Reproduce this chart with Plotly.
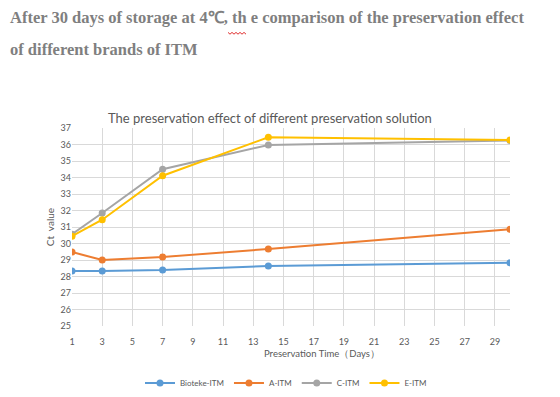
import plotly.graph_objects as go

days = [1, 3, 7, 14, 30]
series_names = ["Bioteke-ITM", "A-ITM", "C-ITM", "E-ITM"]
bioteke = [28.33, 28.33, 28.39, 28.64, 28.83]
a_itm = [29.48, 29.0, 29.18, 29.67, 30.86]
c_itm = [30.56, 31.85, 34.5, 35.97, 36.24]
e_itm = [30.44, 31.44, 34.11, 36.44, 36.27]
colors = ["#5B9BD5", "#ED7D31", "#A5A5A5", "#FFC000"]

x_ticks = list(range(1, 30, 2))
y_ticks = list(range(25, 38))

# page body has an 8px margin; work in page pixels and convert
OFF = 8
W, H = 560 - OFF, 397 - OFF
plot_left, plot_right, plot_top, plot_bottom = 72, 510, 128, 326  # page pixels
L = plot_left - OFF
T = plot_top - OFF
R = W - (plot_right - OFF)
B = H - (plot_bottom - OFF)
pw, ph = W - L - R, H - T - B

def px(x):
    return (x - OFF - L) / pw

def py(y):
    return (H - B - (y - OFF)) / ph

fig = go.Figure()
for name, vals, col in zip(series_names, [bioteke, a_itm, c_itm, e_itm], colors):
    fig.add_trace(go.Scatter(
        x=days, y=vals, name=name, mode="lines+markers",
        line=dict(color=col, width=2),
        marker=dict(color=col, size=7),
    ))

axis_font = dict(family="Lato, sans-serif", size=9, color="#595959")
fig.update_layout(
    width=W, height=H,
    margin=dict(l=L, r=R, t=T, b=B, autoexpand=False),
    paper_bgcolor="white", plot_bgcolor="white",
    showlegend=True,
    legend=dict(orientation="h", x=px(286), y=py(383), xanchor="center", yanchor="middle",
                font=dict(family="Lato, sans-serif", size=8, color="#595959"),
                itemwidth=30, bgcolor="rgba(0,0,0,0)"),
    xaxis=dict(range=[1, 30], tickvals=x_ticks, ticktext=[str(v) for v in x_ticks],
               showgrid=True, gridcolor="#D9D9D9", gridwidth=1, zeroline=False,
               showline=False, ticks="outside", ticklen=7, tickcolor="rgba(0,0,0,0)",
               tickfont=axis_font, automargin=False),
    yaxis=dict(range=[25, 37], tickvals=y_ticks, showgrid=True, gridcolor="#D9D9D9",
               gridwidth=1, zeroline=False, showline=False, ticks="", tickfont=axis_font,
               automargin=False,
               title=dict(text="Ct  value", font=dict(family="Lato, sans-serif", size=10, color="#595959"), standoff=4)),
    annotations=[
        dict(text="<b>After 30 days of storage at 4℃, th e comparison of the preservation effect</b>",
             x=px(8), y=py(17), xref="paper", yref="paper", xanchor="left", yanchor="middle",
             showarrow=False, font=dict(family="Liberation Serif, serif", size=16.5, color="#7F7F7F")),
        dict(text="<b>of different brands of ITM</b>",
             x=px(8), y=py(50), xref="paper", yref="paper", xanchor="left", yanchor="middle",
             showarrow=False, font=dict(family="Liberation Serif, serif", size=16.5, color="#7F7F7F")),
        dict(text="The preservation effect of different preservation solution",
             x=px(270), y=py(118), xref="paper", yref="paper", xanchor="center", yanchor="middle",
             showarrow=False, font=dict(family="Lato, sans-serif", size=13, color="#595959")),
        dict(text="Preservation Time（Days）",
             x=px(322), y=py(353), xref="paper", yref="paper", xanchor="center", yanchor="middle",
             showarrow=False, font=dict(family="Lato, sans-serif", size=9.5, color="#595959")),
    ],
)

# red squiggly underline decoration
zx0, zx1, zy = 228, 246, 33
pts = []
n = 9
for i in range(n + 1):
    xx = zx0 + (zx1 - zx0) * i / n
    yy = zy + (1.2 if i % 2 else -0.6)
    pts.append((px(xx), py(yy)))
path = "M " + " L ".join(f"{a},{b}" for a, b in pts)
fig.add_shape(type="path", path=path, xref="paper", yref="paper",
              line=dict(color="#E03030", width=1))

fig.write_html("out.html")
